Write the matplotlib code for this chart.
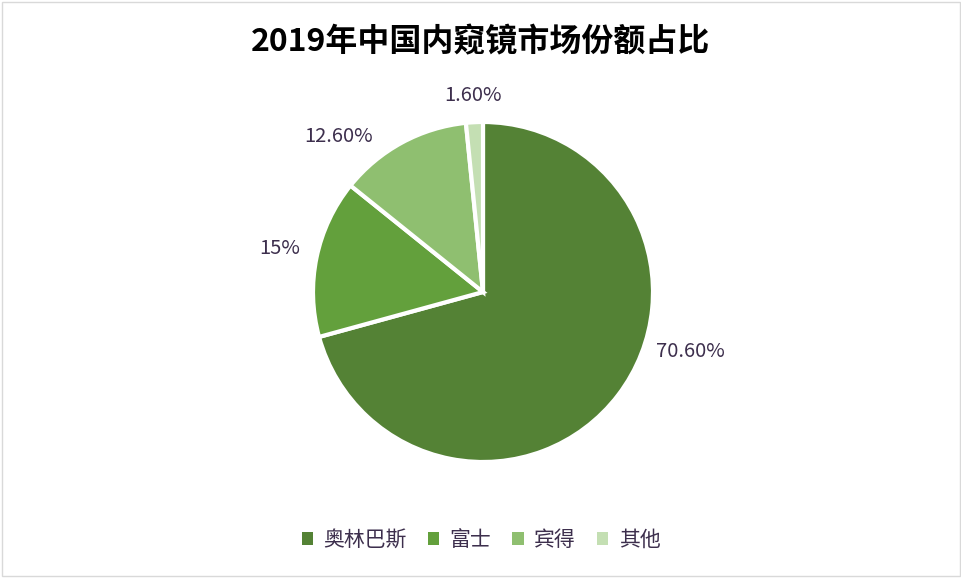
import numpy as np
import matplotlib.pyplot as plt
from matplotlib.patches import Rectangle

plt.rcParams['font.family'] = ['Noto Sans CJK SC', 'DejaVu Sans']

# data
brands = ['奥林巴斯', '富士', '宾得', '其他']
shares = [70.6, 15, 12.6, 1.6]
share_labels = ['70.60%', '15%', '12.60%', '1.60%']
colors = ['#548235', '#63a03c', '#8fbf70', '#c4dfb3']

# label placement (angle in degrees, distance in radii), like excel's best fit
label_angles = [-16, 168, 133, 93]
label_dist = [1.27, 1.22, 1.25, 1.16]

W, H = 962, 578
fig = plt.figure(figsize=(W / 100, H / 100), dpi=100)

# pie centre at (483, 292) px, radius 170 px
cx, cy, r = 483, H - 292, 170
half = 1.5 * r
ax = fig.add_axes([(cx - half) / W, (cy - half) / H, 2 * half / W, 2 * half / H])
wedges, _ = ax.pie(shares, colors=colors, startangle=90, counterclock=False,
                   radius=1, wedgeprops=dict(edgecolor='white', linewidth=3))
ax.set_xlim(-1.5, 1.5)
ax.set_ylim(-1.5, 1.5)
ax.set_aspect('equal')
ax.axis('off')

for txt, a, d in zip(share_labels, label_angles, label_dist):
    t = np.deg2rad(a)
    ax.text(d * np.cos(t), d * np.sin(t), txt, ha='center', va='center',
            fontsize=14.5, fontweight='light', color='#3d2f4d')

fig.text(0.5, 1 - 42 / H, '2019年中国内窥镜市场份额占比', ha='center', va='center',
         fontsize=23, fontweight='bold', color='black')

leg = fig.legend(wedges, brands, loc='center', bbox_to_anchor=(0.5, 1 - 540 / H),
                 ncol=4, frameon=False, fontsize=15, handlelength=0.55,
                 handleheight=0.55, handletextpad=0.5, columnspacing=1.0,
                 labelcolor='#3d2f4d')
for h in leg.legend_handles:
    h.set_edgecolor('none')

fig.patches.append(Rectangle((0.002, 0.003), 0.996, 0.994, transform=fig.transFigure,
                             fill=False, edgecolor='#d9d9d9', linewidth=1))

fig.savefig('out.png', dpi=100)
